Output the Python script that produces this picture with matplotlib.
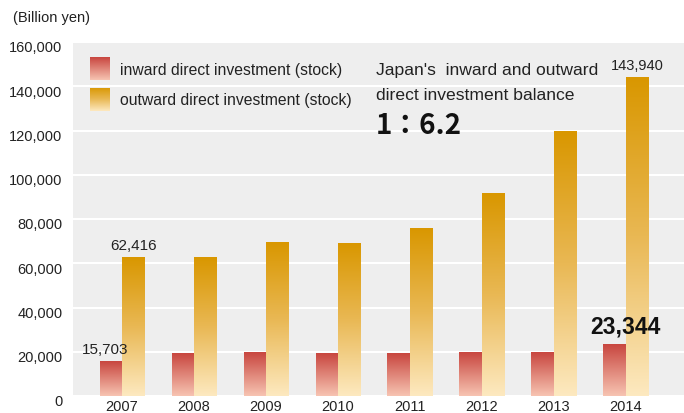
import numpy as np
import matplotlib
matplotlib.use("Agg")
import matplotlib.pyplot as plt
from matplotlib.colors import LinearSegmentedColormap
import matplotlib.transforms as mtransforms

plt.rcParams['font.family'] = ['Liberation Sans', 'DejaVu Sans']

years = ['2007', '2008', '2009', '2010', '2011', '2012', '2013', '2014']
inward = [15703, 19400, 19800, 19100, 19100, 19500, 19800, 23344]
outward = [62416, 62400, 69300, 68900, 75700, 91500, 119500, 143940]
yticks = [0, 20000, 40000, 60000, 80000, 100000, 120000, 140000, 160000]

in_cmap = LinearSegmentedColormap.from_list('in', ['#f7c4b2', '#c8463f'])
out_cmap = LinearSegmentedColormap.from_list('out', ['#fde9c0', '#e9b854', '#d99700'])

fig = plt.figure(figsize=(6.84, 4.14), dpi=100)
ax = fig.add_axes([73/684, (414-397)/414, 1 - 73/684, (397-43)/414])
ax.set_facecolor('#eeeeee')
for s in ax.spines.values():
    s.set_visible(False)

x = np.arange(len(years))
w = 0.31
b_in = ax.bar(x - w/2, inward, width=w, color='none', zorder=3)
b_out = ax.bar(x + w/2, outward, width=w, color='none', zorder=3)

grad = np.linspace(0, 1, 256).reshape(-1, 1)
for bars, cmap in ((b_in, in_cmap), (b_out, out_cmap)):
    for p in bars:
        x0, y0 = p.get_x(), p.get_y()
        ax.imshow(grad, cmap=cmap, origin='lower', aspect='auto',
                  extent=(x0, x0 + p.get_width(), y0, y0 + p.get_height()),
                  zorder=3, interpolation='bilinear')

ax.set_xlim(-0.68, 7.81)
ax.set_ylim(0, 160000)
ax.set_yticks(yticks)
ax.set_yticklabels([f'{v:,}' for v in yticks])
ax.yaxis.grid(True, color='white', linewidth=1.5, zorder=1)
ax.set_axisbelow(True)
ax.tick_params(axis='y', length=0, pad=7.5, labelsize=10.5, colors='#222222')
ax.set_xticks(x)
ax.set_xticklabels(years)
ax.tick_params(axis='x', length=0, pad=2.5, labelsize=10.5, colors='#222222')
off = mtransforms.ScaledTranslation(0, -4/100, fig.dpi_scale_trans)
for lab in ax.get_yticklabels():
    lab.set_transform(lab.get_transform() + off)

# value labels
ax.annotate(f'{outward[0]:,}', (x[0] + w/2, outward[0]), xytext=(0, 4),
            textcoords='offset points', ha='center', va='bottom', fontsize=11, color='#222222')
ax.annotate(f'{inward[0]:,}', (x[0] - w/2, inward[0]), xytext=(-4, 4),
            textcoords='offset points', ha='center', va='bottom', fontsize=11, color='#222222')
ax.annotate(f'{outward[-1]:,}', (x[-1] + w/2, outward[-1]), xytext=(0, 4),
            textcoords='offset points', ha='center', va='bottom', fontsize=10.5, color='#222222')
ax.annotate(f'{inward[-1]:,}', (x[-1], inward[-1]), xytext=(0, 5),
            textcoords='offset points', ha='center', va='bottom', fontsize=16.5,
            fontweight='bold', color='#111111', zorder=5)

# legend (manual, gradient swatches)
def swatch(y_top, cmap, label):
    x0, x1 = 90/684, 110/684
    y1 = (414 - y_top)/414
    y0 = (414 - y_top - 23)/414
    sax = fig.add_axes([x0, y0, x1 - x0, y1 - y0])
    sax.imshow(grad, cmap=cmap, origin='lower', aspect='auto', interpolation='bilinear')
    sax.axis('off')
    fig.text(120/684, (414 - y_top - 12)/414, label, fontsize=11.3, va='center',
             ha='left', color='#222222')

swatch(58, in_cmap, 'inward direct investment (stock)')
swatch(89, out_cmap, 'outward direct investment (stock)')

fig.text(376/684, (414-71)/414, "Japan's  inward and outward", fontsize=12.6,
         va='center', ha='left', color='#222222')
fig.text(376/684, (414-96)/414, "direct investment balance", fontsize=12.6,
         va='center', ha='left', color='#222222')
fig.text(376/684, (414-126)/414, "1：6.2", fontsize=20, fontweight='bold',
         va='center', ha='left', color='#111111',
         family=['Noto Sans CJK JP', 'DejaVu Sans'])

fig.text(13/684, (414-18)/414, "(Billion yen)", fontsize=10.5, va='center',
         ha='left', color='#222222')

fig.savefig('out.png', dpi=100)
